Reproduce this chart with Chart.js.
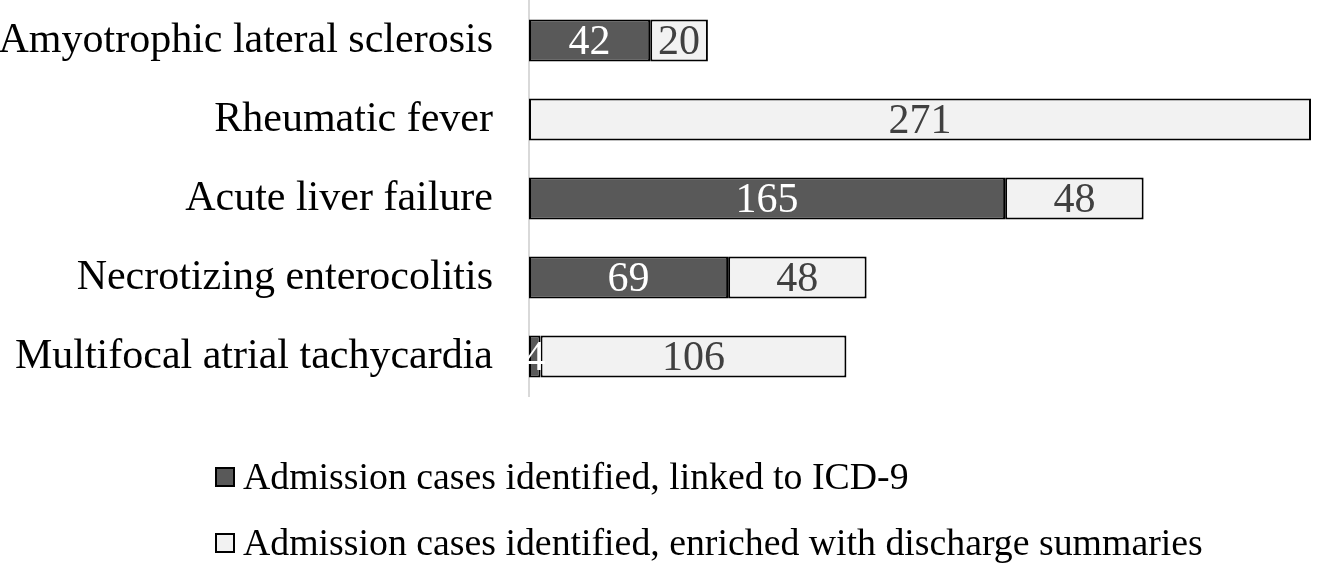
<!DOCTYPE html>
<html>
<head>
<meta charset="utf-8">
<script src="https://cdn.jsdelivr.net/npm/chart.js@4.4.1/dist/chart.umd.min.js"></script>
<style>
  html, body { margin: 0; padding: 0; background: #ffffff; }
  #wrap { width: 1317px; height: 568px; position: relative; }
</style>
</head>
<body>
<div id="wrap"><canvas id="admissionsChart"></canvas></div>
<script>
// ---- data ----
const categories = [
  "Amyotrophic lateral sclerosis",
  "Rheumatic fever",
  "Acute liver failure",
  "Necrotizing enterocolitis",
  "Multifocal atrial tachycardia"
];
const linkedIcd9 = [42, 0, 165, 69, 4];
const enrichedDischarge = [20, 271, 48, 48, 106];
const seriesNames = [
  "Admission cases identified, linked to ICD-9",
  "Admission cases identified, enriched with discharge summaries"
];

const FONT = "'Liberation Serif', 'Times New Roman', serif";

// value labels in the middle of each bar segment
const barValues = {
  id: "barValues",
  afterDatasetsDraw(chart) {
    const ctx = chart.ctx;
    ctx.save();
    ctx.font = "42px " + FONT;
    ctx.textAlign = "center";
    ctx.textBaseline = "middle";
    chart.data.datasets.forEach((ds, i) => {
      const meta = chart.getDatasetMeta(i);
      meta.data.forEach((bar, j) => {
        const v = ds.data[j];
        if (!v) return;
        ctx.fillStyle = ds.labelColor;
        ctx.fillText(String(v), (bar.x + bar.base) / 2, bar.y + 2);
      });
    });
    ctx.restore();
  }
};

// legend: two left-aligned rows under the plot
const stackedLegend = {
  id: "stackedLegend",
  afterDraw(chart) {
    const ctx = chart.ctx;
    ctx.save();
    ctx.font = "37.8px " + FONT;
    ctx.textBaseline = "middle";
    const rows = [477, 543];
    chart.data.datasets.forEach((ds, i) => {
      const y = rows[i];
      ctx.fillStyle = ds.backgroundColor;
      ctx.fillRect(216, y - 9, 18, 18);
      ctx.strokeStyle = "#000000";
      ctx.lineWidth = 2;
      ctx.strokeRect(216, y - 9, 18, 18);
      ctx.fillStyle = "#000000";
      ctx.fillText(ds.label, 243, y + 2);
    });
    ctx.restore();
  }
};

const chartCtx = document.getElementById("admissionsChart");

new Chart(chartCtx, {
  type: "bar",
  data: {
    labels: categories,
    datasets: [
      {
        label: seriesNames[0],
        data: linkedIcd9,
        backgroundColor: "#595959",
        labelColor: "#ffffff",
        borderColor: "#000000",
        borderWidth: 2,
        borderSkipped: false,
        categoryPercentage: 1,
        barPercentage: 0.53
      },
      {
        label: seriesNames[1],
        data: enrichedDischarge,
        backgroundColor: "#f2f2f2",
        labelColor: "#404040",
        borderColor: "#000000",
        borderWidth: 2,
        borderSkipped: false,
        categoryPercentage: 1,
        barPercentage: 0.53
      }
    ]
  },
  options: {
    indexAxis: "y",
    responsive: true,
    maintainAspectRatio: false,
    animation: false,
    layout: { padding: { top: 1, right: 6, bottom: 172, left: 0 } },
    scales: {
      x: {
        stacked: true,
        display: false,
        min: 0,
        max: 271
      },
      y: {
        stacked: true,
        grid: { display: false },
        border: { display: true, color: "#d9d9d9", width: 2 },
        ticks: {
          color: "#000000",
          font: { family: FONT, size: 42 },
          padding: 28
        },
        afterFit(scale) {
          scale.width = 529;
          scale.paddingTop = 0;
          scale.paddingBottom = 0;
        }
      }
    },
    plugins: {
      legend: { display: false },
      tooltip: { enabled: false }
    }
  },
  plugins: [barValues, stackedLegend]
});
</script>
</body>
</html>
